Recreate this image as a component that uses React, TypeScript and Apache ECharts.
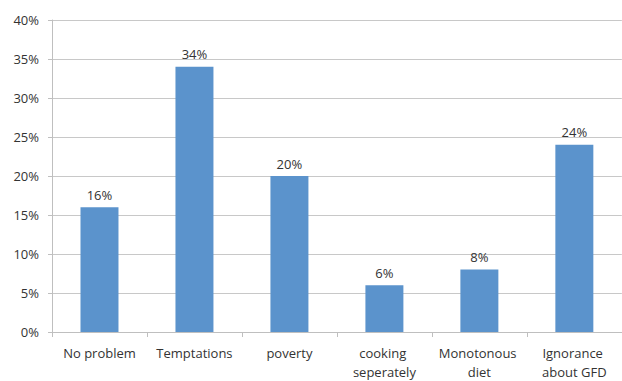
import React, { useEffect, useRef } from "react";
import * as echarts from "echarts";

const categories = ["No problem", "Temptations", "poverty", "cooking seperately", "Monotonous diet", "Ignorance about GFD"];
const values = [16, 34, 20, 6, 8, 24];
const yTicks = { min: 0, max: 40, interval: 5 };

export default function App() {
  const ref = useRef<HTMLDivElement>(null);
  useEffect(() => {
    if (!ref.current) return;
    const chart = echarts.init(ref.current, null, { renderer: "svg" });
    const font = "'Open Sans', 'Noto Sans', sans-serif";
    chart.setOption({
      animation: false,
      backgroundColor: "#ffffff",
      grid: { left: 52, right: -4, top: 20, bottom: 44, containLabel: false },
      xAxis: {
        type: "category",
        data: categories,
        axisLine: { show: true, lineStyle: { color: "#bfbfbf", width: 1 } },
        axisTick: { show: true, length: 5, lineStyle: { color: "#bfbfbf" }, alignWithLabel: false },
        axisLabel: {
          color: "#333333",
          fontSize: 13,
          fontFamily: font,
          margin: 11,
          lineHeight: 19,
          width: 90,
          overflow: "break",
          interval: 0,
        },
      },
      yAxis: {
        type: "value",
        min: yTicks.min,
        max: yTicks.max,
        interval: yTicks.interval,
        axisLine: { show: true, lineStyle: { color: "#bfbfbf", width: 1 } },
        axisTick: { show: true, length: 4, lineStyle: { color: "#bfbfbf" } },
        splitLine: { show: true, lineStyle: { color: "#c8c8c8", width: 1 } },
        axisLabel: {
          color: "#333333",
          fontSize: 13,
          fontFamily: font,
          margin: 13,
          formatter: (v: number) => v + "%",
        },
      },
      series: [
        {
          type: "bar",
          data: values,
          barWidth: "40%",
          itemStyle: { color: "#5b93cc" },
          label: {
            show: true,
            position: "top",
            distance: 6,
            color: "#333333",
            fontSize: 13,
            fontFamily: font,
            formatter: (p: any) => p.value + "%",
          },
        },
      ],
    });
    return () => chart.dispose();
  }, []);
  return (
    <div
      ref={ref}
      style={{ position: "fixed", left: 0, top: 0, width: 622, height: 381 }}
    />
  );
}
